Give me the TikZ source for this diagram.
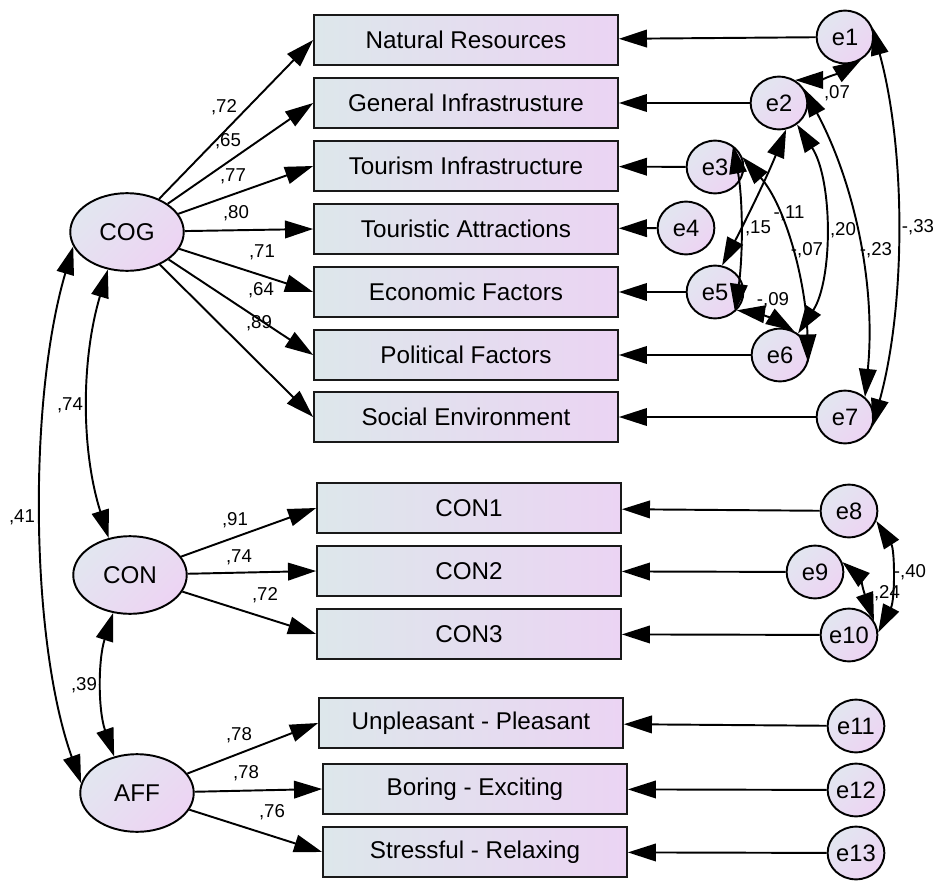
\documentclass[tikz,border=0pt]{standalone}
\usepackage{fontspec}
\setmainfont{Liberation Sans}
\usetikzlibrary{shapes.geometric,arrows.meta}
\definecolor{boxL}{RGB}{221,231,235}
\definecolor{boxR}{RGB}{235,212,243}
\definecolor{ellA}{RGB}{226,230,240}
\definecolor{ellB}{RGB}{237,212,243}
\begin{document}
\begin{tikzpicture}[x=0.02cm,y=-0.02cm,
  obs/.style={draw=black!90, line width=1.1pt, rectangle, minimum width=172.9pt, minimum height=28.9pt, inner sep=0pt, left color=boxL, right color=boxR, font=\fontsize{13.8}{16}\selectfont},
  lat/.style={draw=black, line width=1.1pt, ellipse, minimum width=64.6pt, minimum height=44.2pt, inner sep=0pt, top color=ellA, bottom color=ellB, shading angle=45, font=\fontsize{13.8}{16}\selectfont},
  err/.style={lat, minimum width=32.3pt, minimum height=30pt, font=\fontsize{13.5}{16}\selectfont},
  reg/.style={line width=1.1pt, -{Triangle[length=16pt,width=10pt]}},
  cov/.style={line width=1.1pt, {Triangle[length=16pt,width=10pt]}-{Triangle[length=16pt,width=10pt]}},
  lab/.style={font=\fontsize{10.6}{12}\selectfont, inner sep=0pt}
]
\useasboundingbox (0,0) rectangle (937,882);

% latent variables
\node[lat] (cog) at (127,232) {COG};
\node[lat] (con) at (130,575) {CON};
\node[lat] (aff) at (137,793) {AFF};

% observed variables
\node[obs] (nr) at (466,40) {Natural Resources};
\node[obs] (gi) at (466,103) {General Infrastrusture};
\node[obs] (ti) at (466,166) {Tourism Infrastructure};
\node[obs] (ta) at (466,229) {Touristic Attractions};
\node[obs] (ef) at (466,292) {Economic Factors};
\node[obs] (pf) at (466,355) {Political Factors};
\node[obs] (se) at (466,417) {Social Environment};
\node[obs] (c1) at (469,508) {CON1};
\node[obs] (c2) at (469,571) {CON2};
\node[obs] (c3) at (469,634) {CON3};
\node[obs] (up) at (471,723) {Unpleasant - Pleasant};
\node[obs] (be) at (475,789) {Boring - Exciting};
\node[obs] (sr) at (475,852) {Stressful - Relaxing};

% errors
\node[err] (e1) at (845,37) {e1};
\node[err] (e2) at (779,103) {e2};
\node[err] (e3) at (715,167) {e3};
\node[err] (e4) at (686,228) {e4};
\node[err] (e5) at (715,292) {e5};
\node[err] (e6) at (780,355) {e6};
\node[err] (e7) at (845,417) {e7};
\node[err] (e8) at (849,511) {e8};
\node[err] (e9) at (815,572) {e9};
\node[err] (e10) at (849,635) {e10};
\node[err] (e11) at (856,726) {e11};
\node[err] (e12) at (856,790) {e12};
\node[err] (e13) at (856,853) {e13};

% loadings
\foreach \t in {nr,gi,ti,ta,ef,pf,se} \draw[reg] (cog) -- (\t.west);
\foreach \t in {c1,c2,c3} \draw[reg] (con) -- (\t.west);
\foreach \t in {up,be,sr} \draw[reg] (aff) -- (\t.west);

% error paths
\draw[reg] (e1) -- (nr);
\draw[reg] (e2) -- (gi);
\draw[reg] (e3) -- (ti);
\draw[reg] (e4) -- (ta);
\draw[reg] (e5) -- (ef);
\draw[reg] (e6) -- (pf);
\draw[reg] (e7) -- (se);
\draw[reg] (e8) -- (c1);
\draw[reg] (e9) -- (c2);
\draw[reg] (e10) -- (c3);
\draw[reg] (e11) -- (up);
\draw[reg] (e12) -- (be);
\draw[reg] (e13) -- (sr);

% latent covariances
\draw[cov] (cog.-117) .. controls (81,360) and (81,450) .. (con.120);
\draw[cov] (cog.-165) .. controls (28,400) and (30,640) .. (aff.170);
\draw[cov] (con.-114) .. controls (98,660) and (98,710) .. (aff.122);

% error covariances
\draw[cov] (e2.55) .. controls (819,80) and (841,72) .. (e1.-55);
\draw[cov] (e1.20) .. controls (906,150) and (906,305) .. (e7.-20);
\draw[cov] (e2.30) .. controls (856,186) and (876,289) .. (e7.45);
\draw[cov] (e2.-50) .. controls (833,180) and (833,280) .. (e6.50);
\draw[cov] (e2.-75) .. controls (767,177) and (745,222) .. (e5.75);
\draw[cov] (e3.50) .. controls (743,200) and (743,255) .. (e5.-45);
\draw[cov] (e3.20) .. controls (785,205) and (806,280) .. (e6.-15);
\draw[cov] (e5.-40) .. controls (756,313) and (776,320) .. (e6.60);
\draw[cov] (e8.-20) .. controls (895,550) and (895,600) .. (e10.5);
\draw[cov] (e9.20) .. controls (858,575) and (866,598) .. (e10.30);

% labels
\node[lab] (l1) at (224,107) {,72};
\node[lab] (l2) at (228,141) {,65};
\node[lab] (l3) at (233,176) {,77};
\node[lab] (l4) at (236,213) {,80};
\node[lab] (l5) at (262,252) {,71};
\node[lab] (l6) at (261,290) {,64};
\node[lab] (l7) at (259,323) {,89};
\node[lab] (l8) at (70,405) {,74};
\node[lab] (l9) at (22,517) {,41};
\node[lab] (l10) at (235,520) {,91};
\node[lab] (l11) at (239,557) {,74};
\node[lab] (l12) at (265,595) {,72};
\node[lab] (l13) at (84,685) {,39};
\node[lab] (l14) at (239,735) {,78};
\node[lab] (l15) at (246,773) {,78};
\node[lab] (l16) at (272,812) {,76};
\node[lab] (l17) at (837,93) {,07};
\node[lab] (l18) at (758,228) {,15};
\node[lab] (l19) at (789,213) {-,11};
\node[lab] (l20) at (807,250) {-,07};
\node[lab] (l21) at (843,230) {,20};
\node[lab] (l22) at (876,250) {-,23};
\node[lab] (l23) at (918,227) {-,33};
\node[lab] (l24) at (773,300) {-,09};
\node[lab] (l25) at (910,572) {-,40};
\node[lab] (l26) at (887,593) {,24};
\end{tikzpicture}
\end{document}
